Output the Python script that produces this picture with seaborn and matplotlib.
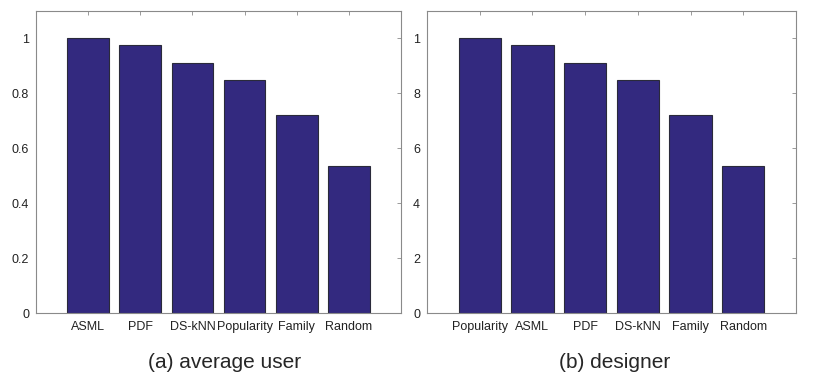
import pandas as pd
import seaborn as sns
import matplotlib.pyplot as plt
from matplotlib.ticker import FixedLocator

# Werte
methods_a = ['ASML', 'PDF', 'DS-kNN', 'Popularity', 'Family', 'Random']
scores_a = [1.0, 0.975, 0.91, 0.848, 0.72, 0.535]

methods_b = ['Popularity', 'ASML', 'PDF', 'DS-kNN', 'Family', 'Random']
scores_b = [1.0, 0.975, 0.91, 0.848, 0.72, 0.535]

yticks = [0, 0.2, 0.4, 0.6, 0.8, 1.0]
yticklabels_a = ['0', '0.2', '0.4', '0.6', '0.8', '1']
yticklabels_b = ['0', '2', '4', '6', '8', '1']  # abgeschnittene Beschriftung wie im Original

titles = ['(a) average user', '(b) designer']

sns.set_style("white")
plt.rcParams['font.family'] = ['Liberation Sans', 'DejaVu Sans']

bar_color = '#33297f'
spine_color = '#8a8a8a'

fig = plt.figure(figsize=(8.14, 3.86), dpi=100)
ax1 = fig.add_axes([36 / 814, 1 - 313 / 386, 365 / 814, 302 / 386])
ax2 = fig.add_axes([427 / 814, 1 - 313 / 386, 369 / 814, 302 / 386])

panels = [
    (ax1, methods_a, scores_a, yticklabels_a),
    (ax2, methods_b, scores_b, yticklabels_b),
]

for ax, methods, scores, ylabels in panels:
    df = pd.DataFrame({'Methode': methods, 'Wert': scores})
    sns.barplot(data=df, x='Methode', y='Wert', order=methods, color=bar_color,
                saturation=1, width=0.8, edgecolor='#2a2a3a', linewidth=0.8, ax=ax)
    ax.set_xlim(-1, len(methods))
    ax.set_ylim(0, 1.1)
    ax.yaxis.set_major_locator(FixedLocator(yticks))
    ax.set_yticklabels(ylabels)
    ax.tick_params(axis='both', which='major', direction='in', length=3,
                   width=0.6, color=spine_color, labelsize=9,
                   labelcolor='#222222', top=True, right=True, pad=5)
    ax.tick_params(axis='x', pad=6)
    for s in ax.spines.values():
        s.set_visible(True)
        s.set_color(spine_color)
        s.set_linewidth(0.8)
    ax.set_ylabel('')
    ax.set_xlabel('')

# Unterschriften unter den Diagrammen
fig.text(225 / 814, 1 - 362 / 386, titles[0], fontsize=15, ha='center', va='center')
fig.text(615 / 814, 1 - 362 / 386, titles[1], fontsize=15, ha='center', va='center')

fig.savefig('out.png', dpi=100)
